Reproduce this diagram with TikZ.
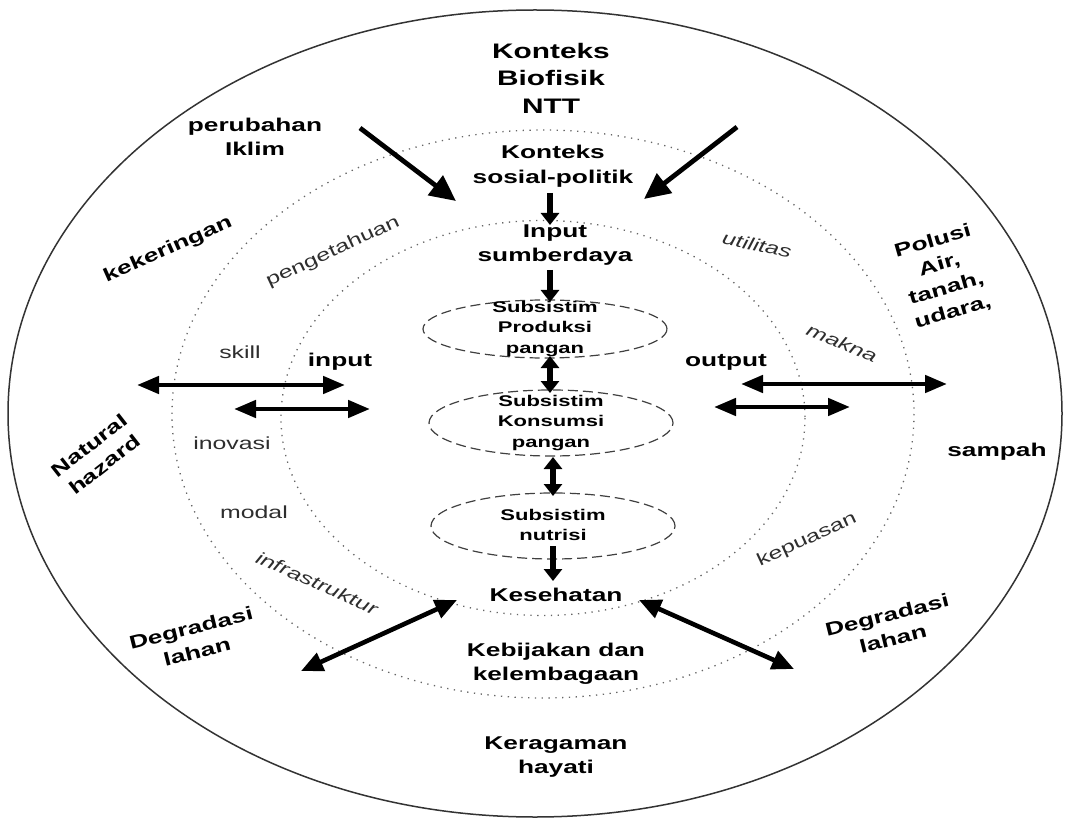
\documentclass[tikz,border=0pt]{standalone}
\usepackage{fontspec}
\setmainfont{Liberation Sans}[FakeStretch=1.42]
\usetikzlibrary{arrows.meta,shapes.geometric}
\begin{document}
\begin{tikzpicture}[x=1pt,y=-1pt,
  lbl/.style={font=\bfseries\fontsize{18.5}{24.5}\selectfont, align=center, inner sep=1pt},
  ttl/.style={font=\bfseries\fontsize{21}{27.5}\selectfont, align=center, inner sep=1pt},
  subt/.style={font=\bfseries\fontsize{15.5}{20.5}\selectfont, align=center, inner sep=0pt},
  soft/.style={font=\fontsize{17.5}{22}\selectfont, text=black!82, inner sep=0pt},
  isoft/.style={font=\itshape\fontsize{17.5}{22}\selectfont, text=black!82, inner sep=0pt},
  dots/.style={draw=black!60, line width=1.3pt, dash pattern=on 1.3pt off 5.5pt},
  dsh/.style={draw=black!75, line width=1.2pt, dash pattern=on 10pt off 5pt, ellipse, inner sep=0pt},
  bigarr/.style={line width=4.8pt, -{Triangle[length=26pt,width=24pt]}},
  harr/.style={line width=4.6pt, {Triangle[length=22pt,width=17pt]}-{Triangle[length=22pt,width=17pt]}},
  darr/.style={line width=4.6pt, {Triangle[length=22pt,width=19pt]}-{Triangle[length=22pt,width=19pt]}},
  varr/.style={line width=5.5pt, -{Triangle[length=12pt,width=18pt]}},
  vdarr/.style={line width=5.5pt, {Triangle[length=12pt,width=18pt]}-{Triangle[length=12pt,width=18pt]}}
]
\useasboundingbox (0,0) rectangle (1071,818);

% rings
\draw[line width=1.5pt, black!80] (535,413.5) ellipse [x radius=527, y radius=403.5];
\draw[dots] (543,414) ellipse [x radius=371, y radius=284];
\draw[dots] (543,418) ellipse [x radius=262, y radius=197.5];

% subsystem ellipses
\node[dsh, minimum width=244pt, minimum height=58pt] (prod) at (545,329) {};
\node[dsh, minimum width=244pt, minimum height=66pt] (kons) at (551,423) {};
\node[dsh, minimum width=244pt, minimum height=66pt] (nut) at (553,526) {};
\node[subt] (prodt) at (545,329) {Subsistim\\Produksi\\pangan};
\node[subt] (konst) at (551,423) {Subsistim\\Konsumsi\\pangan};
\node[subt] (nutt) at (553,525) {Subsistim\\nutrisi};

% labels
\node[ttl] (bio) at (551,78) {Konteks\\Biofisik\\NTT};
\node[lbl] (iklim) at (255,137) {perubahan\\Iklim};
\node[lbl] (sp) at (553,166) {Konteks\\sosial-politik};
\node[lbl] (inp) at (555,245) {Input\\sumberdaya};
\node[lbl, rotate=24] (kek) at (168,250) {kekeringan};
\node[soft, rotate=25] (peng) at (333,252) {pengetahuan};
\node[soft] (skill) at (240,352) {skill};
\node[lbl] (input) at (340,362) {input};
\node[lbl] (output) at (726,362) {output};
\node[isoft, rotate=-12] (util) at (757,245) {utilitas};
\node[lbl, rotate=16] (pol) at (943,277) {Polusi\\Air,\\tanah,\\udara,};
\node[isoft, rotate=-23] (makna) at (842,343) {makna};
\node[lbl, rotate=38] (nh) at (97,455) {Natural\\hazard};
\node[soft] (inov) at (232,443) {inovasi};
\node[soft] (modal) at (254,512) {modal};
\node[isoft, rotate=-24] (infra) at (317,583) {infrastruktur};
\node[lbl, rotate=14] (degl) at (194,640) {Degradasi\\lahan};
\node[lbl] (sampah) at (997,452) {sampah};
\node[soft, rotate=25] (kep) at (807,540) {kepuasan};
\node[lbl, rotate=14] (degr) at (890,627) {Degradasi\\lahan};
\node[lbl] (kes) at (556,595) {Kesehatan};
\node[lbl] (keb) at (556,664) {Kebijakan dan\\kelembagaan};
\node[lbl] (ker) at (556,757) {Keragaman\\hayati};

% arrow end points
\coordinate (a1s) at (360,128); \coordinate (a1e) at (456,201);
\coordinate (a2s) at (737,127); \coordinate (a2e) at (644,199);
\coordinate (v1s) at (550,193); \coordinate (v1e) at (550,225);
\coordinate (v2s) at (550,270); \coordinate (v2e) at (550,302);
\coordinate (v3s) at (550,356); \coordinate (v3e) at (550,393);
\coordinate (v4s) at (553,457); \coordinate (v4e) at (553,496);
\coordinate (v5s) at (553,546); \coordinate (v5e) at (553,581);
\coordinate (h1s) at (137,385); \coordinate (h1e) at (345,385);
\coordinate (h2s) at (234,409); \coordinate (h2e) at (370,409);
\coordinate (h3s) at (741,384); \coordinate (h3e) at (947,384);
\coordinate (h4s) at (714,407); \coordinate (h4e) at (850,407);
\coordinate (d1s) at (301,671); \coordinate (d1e) at (457,600);
\coordinate (d2s) at (639,600); \coordinate (d2e) at (794,669);

\draw[bigarr] (a1s) -- (a1e);
\draw[bigarr] (a2s) -- (a2e);
\draw[varr] (v1s) -- (v1e);
\draw[varr] (v2s) -- (v2e);
\draw[vdarr] (v3s) -- (v3e);
\draw[vdarr] (v4s) -- (v4e);
\draw[varr] (v5s) -- (v5e);
\draw[harr] (h1s) -- (h1e);
\draw[harr] (h2s) -- (h2e);
\draw[harr] (h3s) -- (h3e);
\draw[harr] (h4s) -- (h4e);
\draw[darr] (d1s) -- (d1e);
\draw[darr] (d2s) -- (d2e);
\end{tikzpicture}
\end{document}
